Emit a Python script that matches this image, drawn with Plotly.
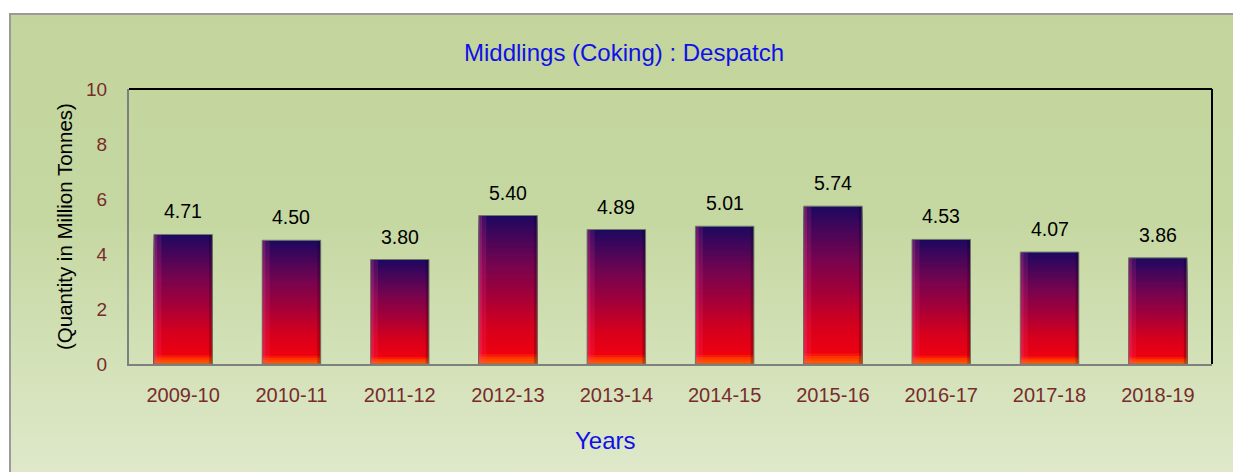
import plotly.graph_objects as go
import base64

years = ["2009-10", "2010-11", "2011-12", "2012-13", "2013-14",
         "2014-15", "2015-16", "2016-17", "2017-18", "2018-19"]
despatch = [4.71, 4.50, 3.80, 5.40, 4.89, 5.01, 5.74, 4.53, 4.07, 3.86]
labels = ["4.71", "4.50", "3.80", "5.40", "4.89", "5.01", "5.74", "4.53", "4.07", "3.86"]

W, H = 1233, 472
L, R, T, B = 129, 1212, 89, 364   # plot area in pixels
PW, PH = R - L, B - T


def px(x):
    return (x - L) / PW


def py(y):
    return (B - y) / PH


# vertical gradient stops for the bars (fraction from bottom, rgb)
stops = [
    (0.00, (255, 95, 0)),
    (0.045, (255, 50, 0)),
    (0.07, (238, 0, 16)),
    (0.25, (212, 0, 30)),
    (0.45, (165, 0, 56)),
    (0.65, (122, 4, 78)),
    (0.85, (70, 6, 90)),
    (1.00, (28, 8, 96)),
]


def grad(t):
    for (t0, c0), (t1, c1) in zip(stops[:-1], stops[1:]):
        if t0 <= t <= t1:
            f = (t - t0) / (t1 - t0) if t1 > t0 else 0
            return "rgb(%d,%d,%d)" % tuple(round(a + (b - a) * f) for a, b in zip(c0, c1))
    return "rgb(%d,%d,%d)" % stops[-1][1]


BW = 0.54
N = 60
fig = go.Figure()
# overlapping bars from the top colour down: each later, shorter bar covers the lower part
for i in range(N - 1, -1, -1):
    fig.add_trace(go.Bar(
        x=years,
        y=[v * (i + 1) / N for v in despatch],
        marker=dict(color=grad((i + 0.5) / N), line=dict(width=0)),
        width=BW, hoverinfo="skip", showlegend=False,
    ))
# soft lighter left edge and darker right edge
fig.add_trace(go.Bar(x=years, y=despatch, width=0.07, offset=-BW / 2,
                     marker=dict(color="rgba(255,70,150,0.14)", line=dict(width=0)),
                     hoverinfo="skip", showlegend=False))
fig.add_trace(go.Bar(x=years, y=despatch, width=0.03, offset=-BW / 2,
                     marker=dict(color="rgba(255,70,150,0.22)", line=dict(width=0)),
                     hoverinfo="skip", showlegend=False))
fig.add_trace(go.Bar(x=years, y=despatch, width=0.03, offset=BW / 2 - 0.03,
                     marker=dict(color="rgba(0,0,0,0.22)", line=dict(width=0)),
                     hoverinfo="skip", showlegend=False))
# outline
fig.add_trace(go.Bar(
    x=years, y=despatch, width=BW,
    marker=dict(color="rgba(0,0,0,0)", line=dict(color="#6d7a6a", width=1)),
    showlegend=False, hoverinfo="skip",
))

font = "Liberation Sans, Arial, sans-serif"
for yr, v, lab in zip(years, despatch, labels):
    fig.add_annotation(x=yr, y=v, text=lab, showarrow=False, yanchor="bottom",
                       yshift=10, font=dict(family=font, size=19.5, color="#000000"))

svg = ('<svg xmlns="http://www.w3.org/2000/svg" width="100" height="100" preserveAspectRatio="none">'
       '<defs><linearGradient id="g" x1="0" y1="0" x2="0" y2="1">'
       '<stop offset="0" stop-color="#c3d59c"/>'
       '<stop offset="0.45" stop-color="#c6d8a2"/>'
       '<stop offset="1" stop-color="#dfe9cb"/>'
       '</linearGradient></defs><rect width="100" height="100" fill="url(#g)"/></svg>')
src = "data:image/svg+xml;base64," + base64.b64encode(svg.encode()).decode()

fx0, fy0, fx1, fy1 = 10, 14, 1245, 480
fig.add_layout_image(dict(source=src, xref="paper", yref="paper",
                          x=px(fx0), y=py(fy0), sizex=px(fx1) - px(fx0), sizey=py(fy0) - py(fy1),
                          xanchor="left", yanchor="top", sizing="stretch", layer="below"))
fig.add_shape(type="rect", xref="paper", yref="paper", x0=px(fx0), x1=px(fx1),
              y0=py(fy1), y1=py(fy0), line=dict(color="#9a9a9a", width=2), layer="below")
# top and right plot borders
fig.add_shape(type="line", xref="paper", yref="paper", x0=0, x1=1, y0=1, y1=1,
              line=dict(color="#000000", width=2))
fig.add_shape(type="line", xref="paper", yref="paper", x0=1, x1=1, y0=0, y1=1,
              line=dict(color="#000000", width=2))

fig.add_annotation(xref="paper", yref="paper", x=px(624), y=py(52), text="Middlings (Coking) : Despatch",
                   xanchor="center", yanchor="middle", showarrow=False,
                   font=dict(family=font, size=24, color="#1010e8"))
fig.add_annotation(xref="paper", yref="paper", x=px(605), y=py(440), text="Years",
                   xanchor="center", yanchor="middle", showarrow=False,
                   font=dict(family=font, size=24, color="#1010e8"))
fig.add_annotation(xref="paper", yref="paper", x=px(64), y=py(227), text="(Quantity in Million Tonnes)",
                   xanchor="center", yanchor="middle", textangle=-90, showarrow=False,
                   font=dict(family=font, size=20.5, color="#000000"))

fig.update_layout(
    width=W, height=H,
    margin=dict(l=L, r=W - R, t=T, b=H - B),
    paper_bgcolor="white", plot_bgcolor="rgba(0,0,0,0)",
    barmode="overlay",
    xaxis=dict(type="category", showline=True, linecolor="#7f7f7f", linewidth=2, showgrid=False,
               ticks="", tickfont=dict(family=font, size=20, color="#772c2c"), ticklabelstandoff=12),
    yaxis=dict(range=[0, 10], dtick=2, showline=True, linecolor="#7f7f7f", linewidth=2,
               showgrid=False, zeroline=False, ticks="",
               tickfont=dict(family=font, size=19, color="#772c2c"), ticklabelstandoff=16),
)
fig.write_html("out.html", config={"displayModeBar": False},
               post_script="document.body.style.margin='0';")
